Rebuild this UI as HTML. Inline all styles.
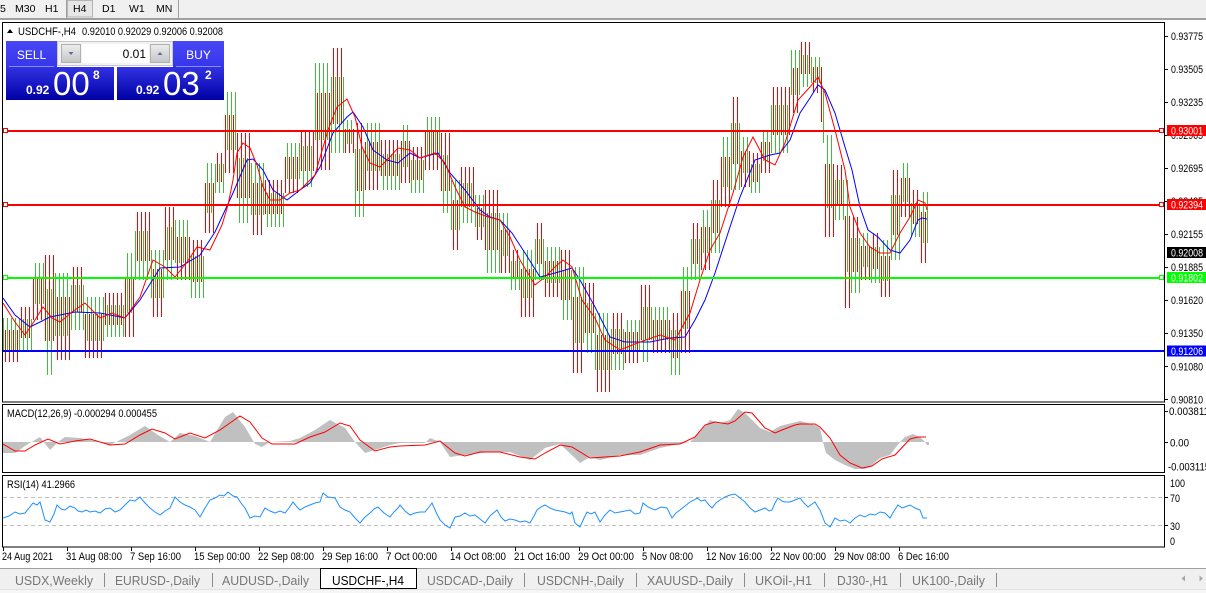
<!DOCTYPE html>
<html><head><meta charset="utf-8">
<style>
html,body{margin:0;padding:0;width:1206px;height:593px;overflow:hidden;background:#fff;}
svg{display:block;font-family:"Liberation Sans",Arial,sans-serif;}
</style></head><body>
<svg width="1206" height="593" viewBox="0 0 1206 593" xmlns="http://www.w3.org/2000/svg">
<defs>
 <linearGradient id="gb" x1="0" y1="0" x2="0" y2="1"><stop offset="0" stop-color="#3232e2"/><stop offset="1" stop-color="#0000a6"/></linearGradient>
 <linearGradient id="gs" x1="0" y1="0" x2="0" y2="1"><stop offset="0" stop-color="#4848f6"/><stop offset="1" stop-color="#3636ea"/></linearGradient>
 <linearGradient id="gg" x1="0" y1="0" x2="0" y2="1"><stop offset="0" stop-color="#ececec"/><stop offset="1" stop-color="#c6c6c6"/></linearGradient>
 <clipPath id="cm"><rect x="3" y="23" width="1162" height="379"/></clipPath>
 <clipPath id="cd"><rect x="3" y="406" width="1162" height="67"/></clipPath>
 <clipPath id="cr"><rect x="3" y="476" width="1162" height="71"/></clipPath>
</defs>
<rect width="1206" height="593" fill="#fff"/>

<!-- toolbar -->
<rect x="0" y="0" width="1206" height="18" fill="#f0f0f0"/>
<rect x="0" y="18" width="1206" height="2" fill="#a0a0a0"/>
<rect x="67.5" y="0.5" width="25" height="16.5" fill="#e6e6e6" stroke="#b4b4b4"/>
<line x1="66.5" y1="0" x2="66.5" y2="18" stroke="#a0a0a0"/>
<line x1="178.5" y1="0" x2="178.5" y2="18" stroke="#a0a0a0"/>
<g font-size="10.5" fill="#000">
<text x="0" y="12">5</text>
<text x="15" y="12">M30</text>
<text x="45" y="12">H1</text>
<text x="73" y="12">H4</text>
<text x="102" y="12">D1</text>
<text x="129" y="12">W1</text>
<text x="156" y="12">MN</text>
</g>

<!-- main chart content -->
<g clip-path="url(#cm)">
 <path fill="none" stroke="#3cc03c" stroke-width="1" d="M3.5 318v32m4-32v32m4-32v32m4-32v32 M19.5 319v31m4-31v31m4-31v31m4-31v31 M35.5 263v41m4-41v41m4-41v41 M47.5 289v86m4-86v86 M55.5 273v63m4-63v63m4-63v63m4-63v63 M71.5 285v45m4-45v45m4-45v45m4-45v45 M87.5 297v44m4-44v44m4-44v44m4-44v44m4-44v44 M107.5 305v32m4-32v32m4-32v32m4-32v32m4-32v32 M127.5 253v60m4-60v60 M135.5 231v49m4-49v49m4-49v49m4-49v49 M151.5 250v48m4-48v48m4-48v48m4-48v48 M167.5 227v53m4-53v53 M175.5 220v43m4-43v43m4-43v43m4-43v43 M191.5 256v42m4-42v42m4-42v42m4-42v42 M207.5 163v50m4-50v50 M215.5 164v29m4-29v29m4-29v29 M227.5 92v58m4-58v58m4-58v58 M239.5 158v65m4-65v65m4-65v65 M251.5 163v52m4-52v52m4-52v52m4-52v52 M267.5 193v34m4-34v34m4-34v34m4-34v34m4-34v34 M287.5 143v36m4-36v36m4-36v36m4-36v36 M303.5 146v41m4-41v41m4-41v41 M315.5 63v77m4-77v77m4-77v77m4-77v77 M331.5 77v76m4-76v76m4-76v76m4-76v76 M347.5 120v24m4-24v24 M355.5 149v68m4-68v68m4-68v68 M367.5 123v48m4-48v48m4-48v48m4-48v48 M383.5 154v36m4-36v36m4-36v36m4-36v36m4-36v36 M403.5 125v42m4-42v42 M411.5 160v33m4-33v33m4-33v33m4-33v33 M427.5 117v38m4-38v38m4-38v38m4-38v38 M443.5 155v58m4-58v58 M451.5 180v50m4-50v50m4-50v50 M463.5 183v40m4-40v40m4-40v40 M475.5 195v32m4-32v32m4-32v32 M487.5 213v60m4-60v60m4-60v60m4-60v60 M503.5 213v43m4-43v43 M511.5 261v29m4-29v29m4-29v29 M523.5 250v48m4-48v48m4-48v48 M535.5 239v41m4-41v41m4-41v41 M547.5 247v36m4-36v36m4-36v36m4-36v36 M563.5 270v50m4-50v50m4-50v50 M575.5 267v76m4-76v76m4-76v76 M587.5 303v50m4-50v50 M595.5 313v57m4-57v57m4-57v57m4-57v57 M611.5 329v41m4-41v41m4-41v41m4-41v41 M627.5 320v31m4-31v31m4-31v31m4-31v31 M643.5 307v55m4-55v55 M651.5 307v33m4-33v33m4-33v33m4-33v33m4-33v33 M671.5 330v45m4-45v45m4-45v45 M683.5 267v62m4-62v62 M691.5 239v41m4-41v41m4-41v41 M703.5 210v43m4-43v43 M711.5 200v53m4-53v53m4-53v53 M723.5 137v50m4-50v50 M731.5 123v67m4-67v67m4-67v67 M743.5 137v36m4-36v36 M751.5 164v29m4-29v29m4-29v29 M763.5 130v31m4-31v31 M771.5 105v48m4-48v48m4-48v48m4-48v48m4-48v48 M791.5 50v45m4-45v45m4-45v45 M803.5 55v32m4-32v32 M811.5 57v26m4-26v26m4-26v26 M823.5 88v55 M827.5 135v73m4-73v73 M835.5 180v40m4-40v40m4-40v40 M847.5 180v92 M851.5 238v55m4-55v55m4-55v55 M863.5 233v34m4-34v34 M871.5 247v36m4-36v36m4-36v36 M883.5 240v41m4-41v41 M891.5 195v65m4-65v65m4-65v65 M903.5 163v39m4-39v39 M911.5 203v34m4-34v34m4-34v34 M923.5 192v51m4-51v51"/>
 <path fill="none" stroke="#ff0000" stroke-width="1" d="M5.5 330v32m4-32v32m4-32v32m4-32v32 M21.5 307v31m4-31v31m4-31v31 M33.5 279v41m4-41v41m4-41v41 M45.5 255v86m4-86v86m4-86v86 M57.5 297v63m4-63v63m4-63v63m4-63v63 M73.5 267v45m4-45v45m4-45v45 M85.5 314v44m4-44v44m4-44v44m4-44v44m4-44v44 M105.5 293v32m4-32v32m4-32v32m4-32v32m4-32v32 M125.5 277v60m4-60v60m4-60v60 M137.5 212v49m4-49v49m4-49v49m4-49v49 M153.5 269v48m4-48v48m4-48v48 M165.5 207v53m4-53v53m4-53v53 M177.5 237v43m4-43v43m4-43v43m4-43v43 M193.5 240v42m4-42v42m4-42v42 M205.5 183v50m4-50v50m4-50v50 M217.5 153v29m4-29v29 M225.5 115v58m4-58v58m4-58v58 M237.5 133v65m4-65v65m4-65v65m4-65v65 M253.5 183v52m4-52v52m4-52v52 M265.5 180v34m4-34v34m4-34v34m4-34v34m4-34v34 M285.5 157v36m4-36v36m4-36v36m4-36v36 M301.5 130v41m4-41v41m4-41v41m4-41v41 M317.5 93v77m4-77v77m4-77v77m4-77v77 M333.5 48v76m4-76v76m4-76v76 M345.5 129v24m4-24v24m4-24v24 M357.5 123v68m4-68v68 M365.5 142v48m4-48v48m4-48v48m4-48v48 M381.5 140v36m4-36v36m4-36v36m4-36v36m4-36v36 M401.5 141v42m4-42v42m4-42v42 M413.5 147v33m4-33v33m4-33v33 M425.5 132v38m4-38v38m4-38v38m4-38v38 M441.5 133v58m4-58v58m4-58v58 M453.5 200v50m4-50v50 M461.5 167v40m4-40v40m4-40v40m4-40v40 M477.5 208v32m4-32v32 M485.5 190v60m4-60v60m4-60v60m4-60v60 M501.5 230v43m4-43v43m4-43v43 M513.5 250v29m4-29v29 M521.5 269v48m4-48v48m4-48v48m4-48v48 M537.5 223v41m4-41v41 M545.5 261v36m4-36v36m4-36v36m4-36v36 M561.5 250v50m4-50v50m4-50v50 M573.5 297v76m4-76v76m4-76v76 M585.5 283v50m4-50v50m4-50v50 M597.5 335v57m4-57v57m4-57v57m4-57v57 M613.5 313v41m4-41v41m4-41v41 M625.5 332v31m4-31v31m4-31v31m4-31v31 M641.5 285v55m4-55v55m4-55v55 M653.5 320v33m4-33v33m4-33v33m4-33v33m4-33v33 M673.5 313v45m4-45v45 M681.5 291v62m4-62v62m4-62v62 M693.5 223v41m4-41v41 M701.5 227v43m4-43v43m4-43v43 M713.5 180v53m4-53v53 M721.5 157v50m4-50v50m4-50v50 M733.5 97v67m4-67v67 M741.5 151v36m4-36v36m4-36v36 M753.5 153v29m4-29v29 M761.5 142v31m4-31v31m4-31v31 M773.5 87v48m4-48v48m4-48v48m4-48v48m4-48v48 M793.5 68v45m4-45v45 M801.5 42v32m4-32v32m4-32v32 M813.5 67v26m4-26v26 M821.5 67v55 M825.5 164v73m4-73v73m4-73v73 M837.5 165v40m4-40v40 M845.5 216v92m4-92v92 M853.5 217v55m4-55v55 M861.5 246v34m4-34v34m4-34v34 M873.5 233v36m4-36v36 M881.5 256v41m4-41v41m4-41v41 M893.5 170v65m4-65v65 M901.5 178v39m4-39v39m4-39v39 M913.5 190v34m4-34v34 M921.5 212v51m4-51v51"/>
 <polyline fill="none" stroke="#0000ff" stroke-width="1" points="3,298 15,315 30,327 50,317 75,312 100,313 125,318 140,300 160,268 180,267 200,255 215,232 233,193 247,160 253,159 263,170 273,190 287,200 300,190 310,183 320,167 333,133 347,117 353,112 363,127 373,150 387,160 398,163 410,153 420,158 438,153 450,173 465,190 480,210 490,217 500,220 512,233 525,253 540,277 555,273 572,268 580,280 595,307 610,337 625,342 650,342 670,338 685,337 695,320 705,300 715,273 730,227 740,197 755,160 770,155 780,153 790,140 800,113 810,98 818,85 825,90 835,113 845,147 852,170 860,207 868,230 878,237 890,250 900,253 910,240 918,220 922,218 927,219"/>
 <polyline fill="none" stroke="#ff0000" stroke-width="1" points="3,303 15,322 25,335 35,320 43,307 52,318 60,322 72,312 85,303 100,318 112,313 125,318 140,297 153,260 165,267 175,277 187,262 197,247 210,250 222,225 228,205 233,180 237,153 243,143 250,148 257,165 263,187 270,200 280,200 290,193 300,190 315,175 328,130 337,107 347,99 355,117 362,147 370,163 380,167 390,157 398,148 410,150 420,158 435,153 445,163 455,187 465,207 475,212 488,217 500,220 510,237 520,260 535,285 545,277 555,267 563,260 572,267 582,300 595,318 605,340 620,350 640,342 660,335 675,340 690,313 700,280 710,250 720,233 733,193 743,157 753,137 765,160 775,165 785,143 798,100 810,87 818,77 825,93 835,130 845,170 850,207 860,233 870,247 880,253 890,253 900,233 910,217 918,200 925,203 927,210"/>
</g>

<!-- price axis labels -->
<g font-size="11" fill="#000">
 <g stroke="#000">
  <line x1="1165" y1="36.5" x2="1168" y2="36.5"/>
  <line x1="1165" y1="69.5" x2="1168" y2="69.5"/>
  <line x1="1165" y1="102.5" x2="1168" y2="102.5"/>
  <line x1="1165" y1="135.5" x2="1168" y2="135.5"/>
  <line x1="1165" y1="168.5" x2="1168" y2="168.5"/>
  <line x1="1165" y1="201.5" x2="1168" y2="201.5"/>
  <line x1="1165" y1="234.5" x2="1168" y2="234.5"/>
  <line x1="1165" y1="267.5" x2="1168" y2="267.5"/>
  <line x1="1165" y1="300.5" x2="1168" y2="300.5"/>
  <line x1="1165" y1="333.5" x2="1168" y2="333.5"/>
  <line x1="1165" y1="366.5" x2="1168" y2="366.5"/>
  <line x1="1165" y1="399.5" x2="1168" y2="399.5"/>
 </g>
 <text x="1171" y="40" textLength="32" lengthAdjust="spacingAndGlyphs">0.93775</text>
 <text x="1171" y="73" textLength="32" lengthAdjust="spacingAndGlyphs">0.93505</text>
 <text x="1171" y="106" textLength="32" lengthAdjust="spacingAndGlyphs">0.93235</text>
 <text x="1171" y="139" textLength="32" lengthAdjust="spacingAndGlyphs">0.92965</text>
 <text x="1171" y="172" textLength="32" lengthAdjust="spacingAndGlyphs">0.92695</text>
 <text x="1171" y="205" textLength="32" lengthAdjust="spacingAndGlyphs">0.92425</text>
 <text x="1171" y="238" textLength="32" lengthAdjust="spacingAndGlyphs">0.92155</text>
 <text x="1171" y="271" textLength="32" lengthAdjust="spacingAndGlyphs">0.91885</text>
 <text x="1171" y="304" textLength="32" lengthAdjust="spacingAndGlyphs">0.91620</text>
 <text x="1171" y="337" textLength="32" lengthAdjust="spacingAndGlyphs">0.91350</text>
 <text x="1171" y="370.5" textLength="32" lengthAdjust="spacingAndGlyphs">0.91080</text>
 <text x="1171" y="403.5" textLength="32" lengthAdjust="spacingAndGlyphs">0.90810</text>
</g>

<!-- horizontal lines -->
<g>
 <line x1="2" y1="131" x2="1165" y2="131" stroke="#ff0000" stroke-width="2"/>
 <line x1="2" y1="205" x2="1165" y2="205" stroke="#ff0000" stroke-width="2"/>
 <line x1="2" y1="278" x2="1165" y2="278" stroke="#00ff00" stroke-width="2"/>
 <line x1="2" y1="351" x2="1165" y2="351" stroke="#0000ff" stroke-width="2"/>
 <rect x="3.5" y="128.5" width="4" height="4" fill="#fff" stroke="#ff0000"/>
 <rect x="3.5" y="202.5" width="4" height="4" fill="#fff" stroke="#ff0000"/>
 <rect x="3.5" y="275.5" width="4" height="4" fill="#fff" stroke="#00ff00"/>
 <rect x="1159.5" y="128.5" width="4" height="4" fill="#fff" stroke="#ff0000"/>
 <rect x="1159.5" y="202.5" width="4" height="4" fill="#fff" stroke="#ff0000"/>
 <rect x="1159.5" y="275.5" width="4" height="4" fill="#fff" stroke="#00ff00"/>
</g>
<!-- price boxes -->
<g font-size="11" fill="#fff">
 <rect x="1167" y="125" width="39" height="11" fill="#ff0000"/>
 <text x="1171" y="134.5" textLength="32" lengthAdjust="spacingAndGlyphs">0.93001</text>
 <rect x="1167" y="199" width="39" height="11" fill="#ff0000"/>
 <text x="1171" y="208.5" textLength="32" lengthAdjust="spacingAndGlyphs">0.92394</text>
 <rect x="1167" y="247" width="39" height="11" fill="#000"/>
 <text x="1171" y="256.5" textLength="32" lengthAdjust="spacingAndGlyphs">0.92008</text>
 <rect x="1167" y="272" width="39" height="11" fill="#00ff00"/>
 <text x="1171" y="281.5" textLength="32" lengthAdjust="spacingAndGlyphs">0.91802</text>
 <rect x="1167" y="345.5" width="39" height="11" fill="#0000ff"/>
 <text x="1171" y="355" textLength="32" lengthAdjust="spacingAndGlyphs">0.91206</text>
</g>

<!-- MACD -->
<g clip-path="url(#cd)">
 <polygon fill="#c0c0c0" points="3,442 3,453 15,453 28,444 40,437 50,450 58,442 65,437 80,438 100,442 110,445 120,440 130,435 145,426 158,435 170,442 180,433 195,436 210,442 225,417 233,412 245,427 255,444 262,447 270,442 290,441 300,438 315,430 330,420 345,428 355,442 365,453 375,450 390,445 400,443 425,443 430,438 440,442 450,457 465,455 490,452 510,452 530,460 545,448 560,444 575,458 580,463 590,457 600,460 620,455 640,455 660,448 680,444 690,442 700,432 710,420 720,423 730,420 738,409 745,413 760,428 770,432 780,426 800,421 815,425 820,428 823,442 826,453 835,460 845,465 855,469 865,469 870,467 880,458 890,455 900,442 905,437 913,434 920,437 925,442 927,445 929,445 929,442"/>
 <polyline fill="none" stroke="#ff0000" stroke-width="1" points="3,444 15,451 25,451 35,445 48,439 60,444 75,441 90,439 110,445 125,444 140,435 152,429 165,433 175,439 190,433 205,438 220,430 240,416 250,422 262,438 272,444 295,444 310,437 325,432 340,423 350,426 360,440 375,451 390,447 400,446 425,445 440,441 455,453 465,456 480,452 500,452 520,457 535,459 545,453 560,445 572,447 590,458 605,457 620,456 640,452 660,445 680,444 695,437 705,425 715,422 728,424 735,421 745,412 752,413 765,428 775,433 782,430 795,425 800,424 815,424 820,427 830,438 840,455 850,463 862,468 872,466 882,459 895,455 910,439 918,437 926,437"/>
</g>
<!-- RSI -->
<g clip-path="url(#cr)">
 <line x1="3" y1="497.5" x2="1165" y2="497.5" stroke="#c0c0c0" stroke-dasharray="4,3"/>
 <line x1="3" y1="525.5" x2="1165" y2="525.5" stroke="#c0c0c0" stroke-dasharray="4,3"/>
 <polyline fill="none" stroke="#1e90ff" stroke-width="1" points="3,518 9,516 15,512 20,514 25,513 29,508 33,503 37,505 40,502 45,520 50,522 54,514 57,505 61,509 65,510 70,506 75,508 78,511 82,512 86,510 90,512 95,511 100,513 105,509 110,508 115,512 120,510 125,505 130,500 135,501 140,497 145,503 150,508 155,512 160,515 165,511 170,508 175,497 180,502 185,505 190,507 195,510 200,517 205,508 210,500 215,498 220,495 224,496 228,492 233,496 237,497 241,503 245,508 250,518 255,516 260,517 265,508 270,511 275,513 280,511 285,513 289,508 293,502 297,507 300,510 305,507 310,505 315,503 320,502 323,493 328,497 335,498 340,507 345,510 350,512 355,518 360,523 365,517 370,513 374,509 378,507 384,513 390,517 394,512 398,508 400,505 405,511 410,515 415,513 420,512 425,512 429,507 432,503 436,512 440,520 445,525 450,528 455,517 460,516 465,513 470,516 475,515 480,519 485,523 490,516 497,510 501,517 505,521 510,519 515,520 520,522 525,521 530,523 534,516 537,510 541,507 545,505 550,508 555,510 560,511 565,512 570,514 572,512 575,523 580,527 584,518 587,512 591,514 595,512 600,522 605,515 610,510 615,513 620,512 625,511 630,510 635,514 640,513 643,503 648,507 655,510 661,507 667,508 672,518 676,513 680,510 685,506 690,502 694,500 697,498 701,501 705,500 709,505 712,508 716,503 720,500 725,497 730,495 735,494 740,498 745,502 750,508 755,512 760,510 765,508 769,511 772,510 775,503 778,498 782,501 785,502 790,502 795,500 800,498 804,503 808,507 812,504 815,502 818,507 820,510 825,523 830,527 835,518 840,521 845,520 850,523 855,518 860,515 865,517 870,514 875,515 880,512 885,513 890,518 894,511 898,505 902,508 905,507 910,505 915,508 920,510 923,518 927,518"/>
</g>

<!-- frames -->
<g fill="none" stroke="#000" stroke-width="1">
 <rect x="2.5" y="22.5" width="1162" height="379.5"/>
 <rect x="2.5" y="404.5" width="1162" height="68"/>
 <rect x="2.5" y="475.5" width="1162" height="71.5"/>
</g>

<!-- indicator axes -->
<g font-size="11" fill="#000">
 <line x1="1165" y1="411.5" x2="1168" y2="411.5" stroke="#000"/>
 <line x1="1165" y1="442.5" x2="1168" y2="442.5" stroke="#000"/>
 <text x="1169" y="415" textLength="40" lengthAdjust="spacingAndGlyphs">0.003811</text>
 <text x="1170" y="446.5" textLength="19" lengthAdjust="spacingAndGlyphs">0.00</text>
 <text x="1168" y="470.5" textLength="42" lengthAdjust="spacingAndGlyphs">-0.003115</text>
 <line x1="1165" y1="497.5" x2="1168" y2="497.5" stroke="#000"/>
 <line x1="1165" y1="525.5" x2="1168" y2="525.5" stroke="#000"/>
 <text x="1170" y="487" textLength="15" lengthAdjust="spacingAndGlyphs">100</text>
 <text x="1170" y="502" textLength="10" lengthAdjust="spacingAndGlyphs">70</text>
 <text x="1170" y="530" textLength="10" lengthAdjust="spacingAndGlyphs">30</text>
 <text x="1170" y="545" textLength="5" lengthAdjust="spacingAndGlyphs">0</text>
 <text x="7" y="417" textLength="150" lengthAdjust="spacingAndGlyphs">MACD(12,26,9) -0.000294 0.000455</text>
 <text x="7" y="488" textLength="68" lengthAdjust="spacingAndGlyphs">RSI(14) 41.2966</text>
</g>

<!-- x axis -->
<g stroke="#000">
 <line x1="3.5" y1="547" x2="3.5" y2="551"/>
 <line x1="67.5" y1="547" x2="67.5" y2="551"/>
 <line x1="131.5" y1="547" x2="131.5" y2="551"/>
 <line x1="195.5" y1="547" x2="195.5" y2="551"/>
 <line x1="259.5" y1="547" x2="259.5" y2="551"/>
 <line x1="323.5" y1="547" x2="323.5" y2="551"/>
 <line x1="387.5" y1="547" x2="387.5" y2="551"/>
 <line x1="451.5" y1="547" x2="451.5" y2="551"/>
 <line x1="515.5" y1="547" x2="515.5" y2="551"/>
 <line x1="579.5" y1="547" x2="579.5" y2="551"/>
 <line x1="643.5" y1="547" x2="643.5" y2="551"/>
 <line x1="707.5" y1="547" x2="707.5" y2="551"/>
 <line x1="771.5" y1="547" x2="771.5" y2="551"/>
 <line x1="835.5" y1="547" x2="835.5" y2="551"/>
 <line x1="899.5" y1="547" x2="899.5" y2="551"/>
</g>
<g font-size="11" fill="#000">
 <text x="2" y="560" textLength="51" lengthAdjust="spacingAndGlyphs">24 Aug 2021</text>
 <text x="66" y="560" textLength="56" lengthAdjust="spacingAndGlyphs">31 Aug 08:00</text>
 <text x="130" y="560" textLength="51" lengthAdjust="spacingAndGlyphs">7 Sep 16:00</text>
 <text x="194" y="560" textLength="56" lengthAdjust="spacingAndGlyphs">15 Sep 00:00</text>
 <text x="258" y="560" textLength="56" lengthAdjust="spacingAndGlyphs">22 Sep 08:00</text>
 <text x="322" y="560" textLength="56" lengthAdjust="spacingAndGlyphs">29 Sep 16:00</text>
 <text x="386" y="560" textLength="51" lengthAdjust="spacingAndGlyphs">7 Oct 00:00</text>
 <text x="450" y="560" textLength="56" lengthAdjust="spacingAndGlyphs">14 Oct 08:00</text>
 <text x="514" y="560" textLength="56" lengthAdjust="spacingAndGlyphs">21 Oct 16:00</text>
 <text x="578" y="560" textLength="56" lengthAdjust="spacingAndGlyphs">29 Oct 00:00</text>
 <text x="642" y="560" textLength="51" lengthAdjust="spacingAndGlyphs">5 Nov 08:00</text>
 <text x="706" y="560" textLength="56" lengthAdjust="spacingAndGlyphs">12 Nov 16:00</text>
 <text x="770" y="560" textLength="56" lengthAdjust="spacingAndGlyphs">22 Nov 00:00</text>
 <text x="834" y="560" textLength="56" lengthAdjust="spacingAndGlyphs">29 Nov 08:00</text>
 <text x="898" y="560" textLength="51" lengthAdjust="spacingAndGlyphs">6 Dec 16:00</text>
</g>

<!-- header -->
<path d="M7 33 L10 29 L13 33 Z" fill="#000"/>
<g font-size="11" fill="#000">
 <text x="18" y="35" textLength="58" lengthAdjust="spacingAndGlyphs">USDCHF-,H4</text>
 <text x="82" y="35" textLength="141" lengthAdjust="spacingAndGlyphs">0.92010 0.92029 0.92006 0.92008</text>
</g>

<!-- trade panel -->
<g>
 <rect x="6" y="41" width="51" height="26" fill="url(#gs)"/>
 <line x1="9" y1="66.5" x2="54" y2="66.5" stroke="#8a8aff"/>
 <text x="31.5" y="59" fill="#fff" font-size="12" text-anchor="middle">SELL</text>
 <rect x="173" y="41" width="51" height="26" fill="url(#gs)"/>
 <line x1="176" y1="66.5" x2="221" y2="66.5" stroke="#8a8aff"/>
 <text x="198.5" y="59" fill="#fff" font-size="12" text-anchor="middle">BUY</text>
 <rect x="57.5" y="41.5" width="115" height="24" fill="#f2f2f2" stroke="#c8c8c8"/>
 <rect x="61.5" y="44.5" width="19" height="18" fill="url(#gg)" stroke="#b0b0b0"/>
 <path d="M68.5 52 h5 l-2.5 3z" fill="#5a6a9a"/>
 <rect x="82" y="44" width="67" height="19" fill="#fff"/>
 <text x="146" y="58" font-size="12" text-anchor="end" fill="#000">0.01</text>
 <rect x="150.5" y="44.5" width="19" height="18" fill="url(#gg)" stroke="#b0b0b0"/>
 <path d="M157.5 55 h5 l-2.5 -3z" fill="#5a6a9a"/>
 <rect x="6" y="67" width="108" height="33" fill="url(#gb)"/>
 <rect x="117" y="67" width="107" height="33" fill="url(#gb)"/>
 <g fill="#fff">
  <text x="26" y="94" font-size="12" font-weight="bold">0.92</text>
  <text x="53" y="95" font-size="33">00</text>
  <text x="93" y="79" font-size="12" font-weight="bold">8</text>
  <text x="136" y="94" font-size="12" font-weight="bold">0.92</text>
  <text x="163" y="95" font-size="33">03</text>
  <text x="205" y="79" font-size="12" font-weight="bold">2</text>
 </g>
</g>

<!-- tab bar -->
<rect x="0" y="568" width="1206" height="21" fill="#f0f0f0"/>
<line x1="0" y1="568.5" x2="1206" y2="568.5" stroke="#a0a0a0"/>
<rect x="0" y="589" width="1206" height="4" fill="#f6f6f6"/>
<line x1="0" y1="589.5" x2="1206" y2="589.5" stroke="#e2e2e2"/>
<rect x="320.5" y="568.5" width="96" height="20" fill="#fff" stroke="#000"/>
<g stroke="#8a8a8a">
 <line x1="104.5" y1="573" x2="104.5" y2="587"/>
 <line x1="212.5" y1="573" x2="212.5" y2="587"/>
 <line x1="524.5" y1="573" x2="524.5" y2="587"/>
 <line x1="636.5" y1="573" x2="636.5" y2="587"/>
 <line x1="744.5" y1="573" x2="744.5" y2="587"/>
 <line x1="824.5" y1="573" x2="824.5" y2="587"/>
 <line x1="900.5" y1="573" x2="900.5" y2="587"/>
 <line x1="996.5" y1="573" x2="996.5" y2="587"/>
</g>
<g font-size="12.5" fill="#767676">
 <text x="15" y="585" textLength="78" lengthAdjust="spacingAndGlyphs">USDX,Weekly</text>
 <text x="115" y="585" textLength="85" lengthAdjust="spacingAndGlyphs">EURUSD-,Daily</text>
 <text x="222" y="585" textLength="87" lengthAdjust="spacingAndGlyphs">AUDUSD-,Daily</text>
 <text x="332" y="585" textLength="72" lengthAdjust="spacingAndGlyphs" fill="#000">USDCHF-,H4</text>
 <text x="427" y="585" textLength="86" lengthAdjust="spacingAndGlyphs">USDCAD-,Daily</text>
 <text x="537" y="585" textLength="87" lengthAdjust="spacingAndGlyphs">USDCNH-,Daily</text>
 <text x="647" y="585" textLength="86" lengthAdjust="spacingAndGlyphs">XAUUSD-,Daily</text>
 <text x="755" y="585" textLength="57" lengthAdjust="spacingAndGlyphs">UKOil-,H1</text>
 <text x="837" y="585" textLength="51" lengthAdjust="spacingAndGlyphs">DJ30-,H1</text>
 <text x="912" y="585" textLength="73" lengthAdjust="spacingAndGlyphs">UK100-,Daily</text>
</g>
<path d="M1185 575.5 L1181.5 578.5 L1185 581.5 Z" fill="#a8a8a8"/>
<path d="M1199.5 575.5 L1203 578.5 L1199.5 581.5 Z" fill="#a8a8a8"/>
</svg>
</body></html>
